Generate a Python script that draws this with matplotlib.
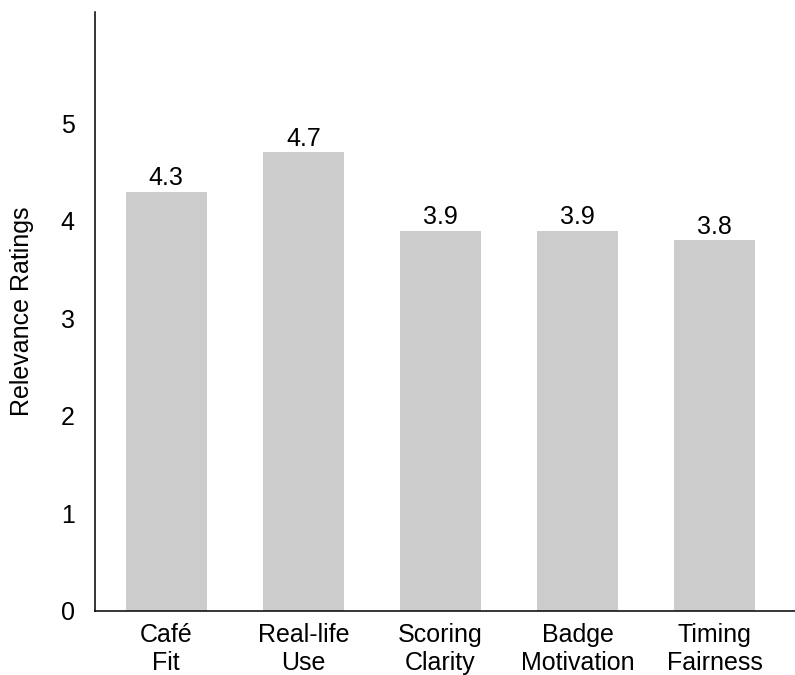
import matplotlib.pyplot as plt

plt.rcParams['font.family'] = ['Liberation Sans', 'DejaVu Sans']

# Mean relevance rating per item
categories = ['Café\nFit', 'Real-life\nUse', 'Scoring\nClarity', 'Badge\nMotivation', 'Timing\nFairness']
ratings = [4.3, 4.7, 3.9, 3.9, 3.8]
yticks = [0, 1, 2, 3, 4, 5]

fig = plt.figure(figsize=(7.95, 6.75), dpi=100)
ax = fig.add_axes([95 / 795, 64 / 675, 700 / 795, 599 / 675])

x = range(len(categories))
bars = ax.bar(x, ratings, width=0.59, color='#cccccc')

for b, v in zip(bars, ratings):
    ax.annotate(f'{v:.1f}', (b.get_x() + b.get_width() / 2, v),
                xytext=(0, 4.5), textcoords='offset points',
                ha='center', va='baseline', fontsize=18)

ax.set_xlim(-0.518, 4.584)
ax.set_ylim(0, 6.14)
ax.set_xticks(list(x))
ax.set_xticklabels(categories, fontsize=18)
ax.set_yticks(yticks)
ax.set_yticklabels([str(t) for t in yticks], fontsize=18)
ax.tick_params(axis='x', length=0, pad=8.5)
ax.tick_params(axis='y', length=0, pad=14.5)
ax.set_ylabel('Relevance Ratings', fontsize=18, labelpad=19)

for side in ['top', 'right']:
    ax.spines[side].set_visible(False)
for side in ['left', 'bottom']:
    ax.spines[side].set_linewidth(1.1)
    ax.spines[side].set_color('black')

fig.savefig('out.png', dpi=100)
